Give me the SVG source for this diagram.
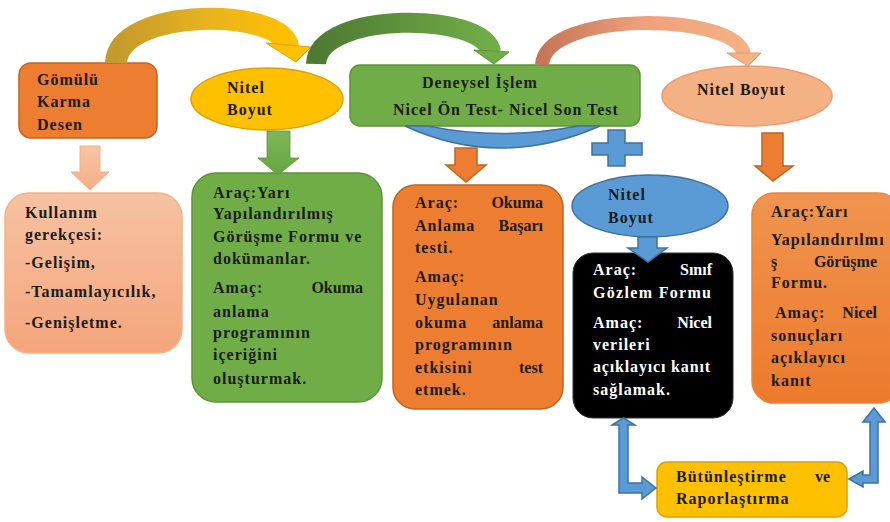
<svg xmlns="http://www.w3.org/2000/svg" width="890" height="522" viewBox="0 0 890 522">
<defs>
<linearGradient id="gGold" x1="0" y1="0" x2="1" y2="0"><stop offset="0" stop-color="#C49A2C"/><stop offset="0.55" stop-color="#E8B41E"/><stop offset="1" stop-color="#FFC000"/></linearGradient>
<linearGradient id="gGreen" x1="0" y1="0" x2="1" y2="0"><stop offset="0" stop-color="#4E7A32"/><stop offset="1" stop-color="#70AD47"/></linearGradient>
<linearGradient id="gSalmon" x1="0" y1="0" x2="1" y2="0"><stop offset="0" stop-color="#C47656"/><stop offset="0.5" stop-color="#EFA07C"/><stop offset="1" stop-color="#F4B183"/></linearGradient>
<linearGradient id="gPeach" x1="0" y1="0" x2="0" y2="1"><stop offset="0" stop-color="#F6C2A2"/><stop offset="1" stop-color="#F4A57C"/></linearGradient>
<linearGradient id="gOrangeR" x1="0" y1="0" x2="0" y2="1"><stop offset="0" stop-color="#F0944F"/><stop offset="1" stop-color="#EC7A2C"/></linearGradient>
<linearGradient id="gArrowPeach" x1="0" y1="0" x2="0" y2="1"><stop offset="0" stop-color="#F8C4A6"/><stop offset="1" stop-color="#F4AE86"/></linearGradient>
<linearGradient id="gArrowGreen" x1="0" y1="0" x2="0" y2="1"><stop offset="0" stop-color="#7DB858"/><stop offset="1" stop-color="#66A53E"/></linearGradient>
</defs>
<style>
.t{font-family:"Liberation Serif","Times New Roman",serif;font-weight:bold;font-size:16px;letter-spacing:1px;fill:#1c1c1c}
.w{fill:#ffffff}
.e{text-anchor:end;letter-spacing:0}
.orange{fill:#ED7D31;stroke:#C0641F;stroke-width:1.5}
.green{fill:#70AD47;stroke:#5E933B;stroke-width:1.5}
.yellow{fill:#FFC000;stroke:#D9A300;stroke-width:1.5}
.blue{fill:#5B9BD5;stroke:#41719C;stroke-width:1.5}
.black{fill:#000000;stroke:#333333;stroke-width:1}
</style>

<g id="gomulu">
  <rect x="19" y="63" width="138" height="75" rx="12" class="orange"/>
  <text class="t" x="37" y="85">Gömülü</text>
  <text class="t" x="37" y="107">Karma</text>
  <text class="t" x="37" y="130">Desen</text>
</g>

<g id="nitel-yellow">
  <ellipse cx="267" cy="99" rx="76" ry="31" class="yellow"/>
  <text class="t" x="227" y="93">Nitel</text>
  <text class="t" x="227" y="115">Boyut</text>
</g>

<g id="deneysel">
  <rect x="350" y="65" width="290" height="61" rx="10" class="green"/>
  <text class="t" x="422" y="88">Deneysel İşlem</text>
  <text class="t" x="393" y="115">Nicel Ön Test- Nicel Son Test</text>
</g>

<g id="nitel-salmon">
  <ellipse cx="747" cy="96" rx="85" ry="30" fill="#F4B183" stroke="#EB9C72" stroke-width="1.5"/>
  <text class="t" x="697" y="95">Nitel Boyut</text>
</g>

<g id="kullanim">
  <rect x="5" y="193" width="177" height="160" rx="24" fill="url(#gPeach)" stroke="#F4B183" stroke-width="1.5"/>
  <text class="t" x="25" y="218">Kullanım</text>
  <text class="t" x="25" y="240">gerekçesi:</text>
  <text class="t" x="25" y="268">-Gelişim,</text>
  <text class="t" x="25" y="297">-Tamamlayıcılık,</text>
  <text class="t" x="25" y="328">-Genişletme.</text>
</g>

<g id="arac-yari-green">
  <rect x="192" y="173" width="190" height="229" rx="24" class="green"/>
  <text class="t" x="213" y="198">Araç:Yarı</text>
  <text class="t" x="213" y="219">Yapılandırılmış</text>
  <text class="t" x="213" y="242">Görüşme Formu ve</text>
  <text class="t" x="213" y="264">dokümanlar.</text>
  <text class="t" x="213" y="293">Amaç:</text>
  <text class="t e" x="363" y="293">Okuma</text>
  <text class="t" x="213" y="317">anlama</text>
  <text class="t" x="213" y="338">programının</text>
  <text class="t" x="213" y="360">içeriğini</text>
  <text class="t" x="213" y="384">oluşturmak.</text>
</g>

<g id="arac-okuma">
  <rect x="393" y="185" width="170" height="224" rx="22" class="orange"/>
  <text class="t" x="415" y="208">Araç:</text>
  <text class="t e" x="543" y="208">Okuma</text>
  <text class="t" x="415" y="231">Anlama</text>
  <text class="t e" x="543" y="231">Başarı</text>
  <text class="t" x="415" y="253">testi.</text>
  <text class="t" x="415" y="282">Amaç:</text>
  <text class="t" x="415" y="305">Uygulanan</text>
  <text class="t" x="415" y="328">okuma</text>
  <text class="t e" x="543" y="328">anlama</text>
  <text class="t" x="415" y="350">programının</text>
  <text class="t" x="415" y="373">etkisini</text>
  <text class="t e" x="543" y="373">test</text>
  <text class="t" x="415" y="395">etmek.</text>
</g>

<g id="nitel-blue">
  <ellipse cx="650" cy="206" rx="78" ry="31" class="blue"/>
  <text class="t" x="608" y="200">Nitel</text>
  <text class="t" x="608" y="223">Boyut</text>
</g>

<g id="arac-sinif">
  <rect x="573" y="253" width="160" height="165" rx="20" class="black"/>
  <text class="t w" x="593" y="275">Araç:</text>
  <text class="t w e" x="712" y="275">Sınıf</text>
  <text class="t w" x="593" y="298" textLength="119">Gözlem Formu</text>
  <text class="t w" x="593" y="328">Amaç:</text>
  <text class="t w e" x="712" y="328">Nicel</text>
  <text class="t w" x="593" y="350">verileri</text>
  <text class="t w" x="593" y="372" textLength="118">açıklayıcı kanıt</text>
  <text class="t w" x="593" y="395">sağlamak.</text>
</g>

<g id="arac-yari-orange">
  <rect x="752" y="193" width="148" height="210" rx="22" fill="url(#gOrangeR)" stroke="#E8863F" stroke-width="1.5"/>
  <text class="t" x="771" y="217">Araç:Yarı</text>
  <text class="t" x="771" y="245">Yapılandırılmı</text>
  <text class="t" x="771" y="267">ş</text>
  <text class="t e" x="877" y="267">Görüşme</text>
  <text class="t" x="771" y="288">Formu.</text>
  <text class="t" x="775" y="318">Amaç:</text>
  <text class="t e" x="877" y="318">Nicel</text>
  <text class="t" x="771" y="341">sonuçları</text>
  <text class="t" x="771" y="363">açıklayıcı</text>
  <text class="t" x="771" y="386">kanıt</text>
</g>

<g id="butunlestirme">
  <rect x="657" y="462" width="190" height="55" rx="10" class="yellow"/>
  <text class="t" x="676" y="482">Bütünleştirme</text>
  <text class="t e" x="830" y="482">ve</text>
  <text class="t" x="676" y="504">Raporlaştırma</text>
</g>

<g id="connectors">
  <!-- top curved arrows -->
  <path d="M116,63 C118,6 283,8 288,47" fill="none" stroke="url(#gGold)" stroke-width="22"/>
  <polygon points="266,43 311,47 296,62" fill="#FFC000" stroke="#D9A300" stroke-width="1"/>
  <path d="M316,64 C318,10 485,12 491,52" fill="none" stroke="url(#gGreen)" stroke-width="20"/>
  <polygon points="474,50 509,52 494,64" fill="#70AD47" stroke="#5E933B" stroke-width="1"/>
  <path d="M542,65 C545,10 735,12 744,54" fill="none" stroke="url(#gSalmon)" stroke-width="14"/>
  <polygon points="727,53 761,53 748,66" fill="#F4B183" stroke="#E89A70" stroke-width="1"/>
  <!-- blue crescent under Deneysel -->
  <path d="M405,126 Q500,170 600,126 L578,126 Q500,141 428,126 Z" class="blue"/>
  <!-- plus -->
  <polygon points="608,130 625,130 625,143 642,143 642,155 625,155 625,166 608,166 608,155 592,155 592,143 608,143" class="blue"/>
  <!-- block down arrows -->
  <polygon points="80,146 100,146 100,172 109,172 90,190 71,172 80,172" fill="url(#gArrowPeach)" stroke="#F4B183" stroke-width="1"/>
  <polygon points="267,131 290,131 290,158 299,158 278,175 258,158 267,158" fill="url(#gArrowGreen)" stroke="#5E933B" stroke-width="0.8"/>
  <polygon points="455,148 477,148 477,165 486,165 466,182 446,165 455,165" class="orange"/>
  <polygon points="762,133 783,133 783,166 793,166 773,181 755,166 762,166" class="orange"/>
  <polygon points="638,237 657,237 657,248 667,248 648,262 628,248 638,248" class="blue"/>
  <!-- bottom elbow arrows -->
  <polygon points="623.5,418 635,425 628,425 628,483 642,483 642,477 656,488 642,499 642,493 619,493 619,425 612,425" class="blue"/>
  <polygon points="849,479 863,471 863,475 870,475 870,422 863,422 874,408 885,422 878,422 878,483 863,483 863,487" class="blue"/>
</g>
</svg>
